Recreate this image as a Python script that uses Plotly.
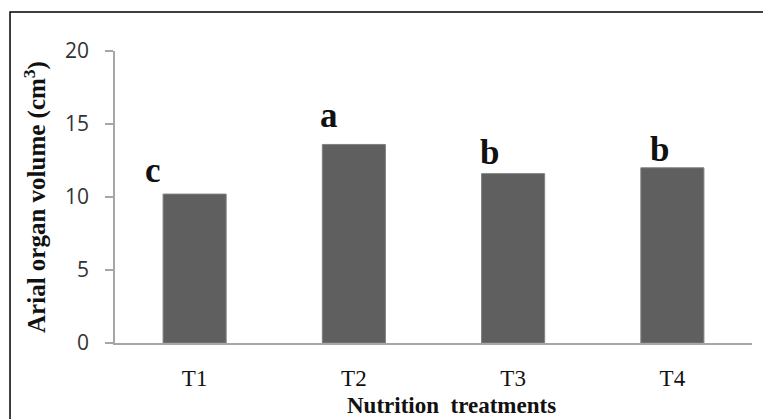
import plotly.graph_objects as go

# Aerial organ volume by nutrition treatment, with significance letters
treatments = ["T1", "T2", "T3", "T4"]
volume = [10.2, 13.6, 11.6, 12.0]
groups = ["c", "a", "b", "b"]
y_ticks = [0, 5, 10, 15, 20]

# label placement offsets (pixels) relative to each bar top
label_dx = [-42, -25, -24, -13]
label_dy = [2, 7, 0, -3]

fig = go.Figure()
fig.add_trace(go.Bar(
    x=treatments,
    y=volume,
    marker=dict(color="#5f5f5f", line=dict(color="#808080", width=1)),
    hoverinfo="x+y",
))

for t, v, g, dx, dy in zip(treatments, volume, groups, label_dx, label_dy):
    fig.add_annotation(
        x=t, y=v, text=f"<b>{g}</b>", showarrow=False,
        xanchor="center", yanchor="bottom",
        xshift=dx, yshift=dy,
        font=dict(family="Liberation Serif", size=35, color="#111111"),
    )

# x-axis title drawn as an annotation so it can sit slightly off-centre
fig.add_annotation(
    x=0.529, y=-0.215, xref="paper", yref="paper",
    text="<b>Nutrition  treatments</b>", showarrow=False,
    xanchor="center", yanchor="middle",
    font=dict(family="Liberation Serif", size=23, color="#111111"),
)

# outer frame around the chart
fig.add_shape(
    type="rect", xref="paper", yref="paper",
    x0=-0.1648, x1=1.05, y0=-0.3, y1=1.1338,
    line=dict(color="#000000", width=1.5), fillcolor="rgba(0,0,0,0)",
)

fig.update_layout(
    width=763, height=419,
    margin=dict(l=115, r=11, t=51, b=76, pad=0),
    paper_bgcolor="white", plot_bgcolor="white",
    bargap=0.604,
    showlegend=False,
    xaxis=dict(
        showline=True, linecolor="#a6a6a6", linewidth=1.5,
        ticks="", showgrid=False, zeroline=False,
        tickfont=dict(family="Liberation Serif", size=23, color="#111111"),
        ticklabelstandoff=14,
    ),
    yaxis=dict(
        range=[0, 20], tickvals=y_ticks,
        showline=True, linecolor="#a6a6a6", linewidth=1.5,
        ticks="outside", ticklen=8, tickcolor="#a6a6a6", tickwidth=1.5,
        showgrid=False, zeroline=False,
        tickfont=dict(family="Open Sans", size=21, color="#333333"),
        ticklabelstandoff=12,
        title=dict(
            text="<b>Arial organ volume (cm<sup>3</sup>)</b>",
            font=dict(family="Liberation Serif", size=25, color="#111111"),
            standoff=12,
        ),
    ),
)

fig.write_html("out.html")
